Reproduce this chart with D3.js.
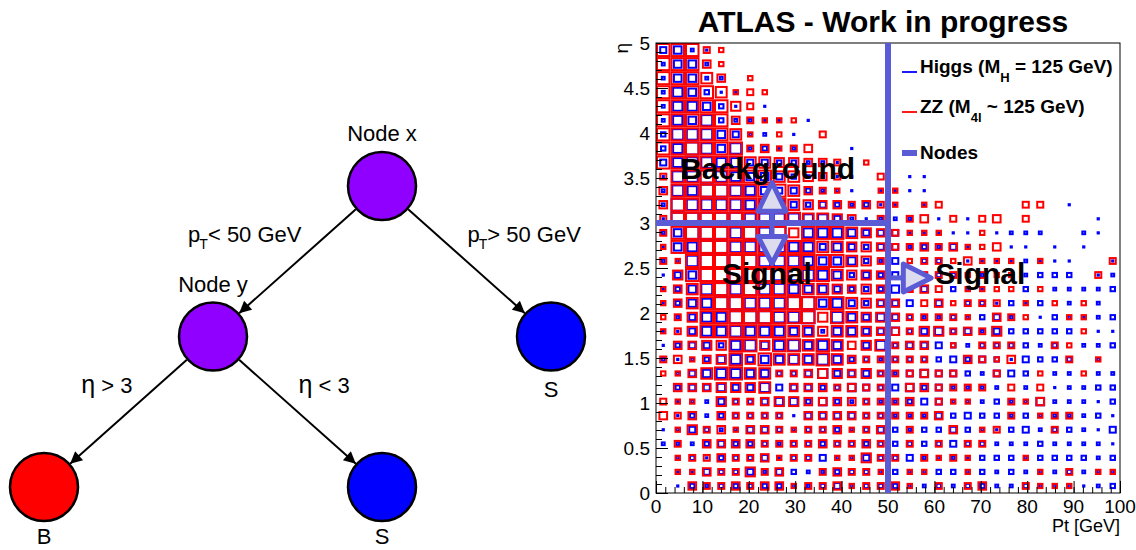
<!DOCTYPE html>
<html>
<head>
<meta charset="utf-8">
<script src="https://cdn.jsdelivr.net/npm/d3@7"></script>
<style>
  body { margin: 0; background: #fff; }
  svg { display: block; font-family: "Liberation Sans", Arial, Helvetica, sans-serif; }
</style>
</head>
<body>
<svg id="chart" width="1136" height="550"></svg>
<script>
// ---------------------------------------------------------------
// Box histograms: one digit per bin (0 = empty, 9 = box fills the bin),
// rows listed from the top eta bin (4.84-5) down to the bottom one (0-0.16),
// columns from pT = 0 to pT = 100 GeV.
// ---------------------------------------------------------------
const higgsRows = [
  "56320000000000000000000000000000",
  "36630000000000000000000000000000",
  "36633000000000000000000000000000",
  "37642200000000000000000000000000",
  "37764202000000000000000000000000",
  "37684332202000000000000000000000",
  "48886533020000000000000000000000",
  "47986834230002000000000000000000",
  "57887755443320000000000000000000",
  "28898766543322000220000000000000",
  "38799876554332022220000000000000",
  "39888878754543422020000000002000",
  "29999988887753233302020000000020",
  "36999898907776555222220233300320",
  "26799888877565455343520022020200",
  "33899998887666435044022223222002",
  "25699999888764545444433333444023",
  "24689898876654446450432004033334",
  "24679988899675455505044242403030",
  "03577999889086565433434530243234",
  "22577877766366556456453544444022",
  "24554786786760574555434444340334",
  "32346756676864434444545425444030",
  "03567766445755543565543554033033",
  "04556557555446545645333303023344",
  "02335445664643433455333433633324",
  "02434444425555443335454434333342",
  "23543355434443454344543245344325",
  "33345444344444444444544333433332",
  "03424445244533544533324443444434",
  "02254453543344434334434343334333",
  "02434444433453444334344334333234"
];
const zzRows = [
  "99954000000000000000000000000000",
  "99964000000000000000000000000000",
  "99986040000000000000000000000000",
  "99998454000000000000000000000000",
  "99999750000000000000000000000000",
  "99999654440000000000000000000000",
  "99999840400500000000000000000000",
  "99999956456000000000000000000000",
  "99999988776650400000000000000000",
  "59999999887650050000000000000000",
  "69999999986540044000000000000000",
  "69999999987665654045000005500000",
  "59999999998876050560505605000000",
  "59999999979998765444004000000000",
  "49999999999887765565644600000000",
  "54999999999998750455464440400005",
  "07999999999987760555545440000050",
  "46899999998876760565044440400000",
  "46899999999998766056455504040400",
  "45799999999798776555540654004400",
  "45799999988788766577565700000400",
  "06677997998986785660405550054000",
  "56467979888986555550065460005040",
  "44689988556776755565500500400400",
  "06667778066656550665555050500000",
  "54407556776666555605440054600000",
  "65606555506666555556000050455000",
  "04756466545564560500604500050000",
  "05066665555655650505055000000000",
  "04556556455044755054540004000000",
  "04465575600565540440040000405044",
  "00655656645564556405056005444000"
];

const ptRange = [0, 100];
const etaRange = [0, 5];
const ptTicks = [0, 10, 20, 30, 40, 50, 60, 70, 80, 90, 100];
const etaTicks = [0, 0.5, 1, 1.5, 2, 2.5, 3, 3.5, 4, 4.5, 5];
const etaTickLabels = ["0", "0.5", "1", "1.5", "2", "2.5", "3", "3.5", "4", "4.5", "5"];

// Decision-tree cuts shown on the histogram
const cutPt = 50;
const cutEta = 3;

const legendEntries = [
  { kind: "line", color: "#0000ff", main: "Higgs (M", sub: "H", rest: " = 125 GeV)" },
  { kind: "line", color: "#ff0000", main: "ZZ (M", sub: "4l", rest: " ~ 125 GeV)" },
  { kind: "band", color: "#5b5bd6", main: "Nodes", sub: "", rest: "" }
];

// Decision tree
const treeNodes = [
  { id: "x",  label: "Node x", labelPos: "above", fill: "#9000ff", depth: 0, slot: 2 },
  { id: "y",  label: "Node y", labelPos: "above", fill: "#9000ff", depth: 1, slot: 1 },
  { id: "s1", label: "S",      labelPos: "below", fill: "#0000ff", depth: 1, slot: 3 },
  { id: "b",  label: "B",      labelPos: "below", fill: "#ff0000", depth: 2, slot: 0 },
  { id: "s2", label: "S",      labelPos: "below", fill: "#0000ff", depth: 2, slot: 2 }
];
const treeEdges = [
  { source: "x", target: "y",  var: "pT",  op: "<", value: "50 GeV" },
  { source: "x", target: "s1", var: "pT",  op: ">", value: "50 GeV" },
  { source: "y", target: "b",  var: "eta", op: ">", value: "3" },
  { source: "y", target: "s2", var: "eta", op: "<", value: "3" }
];

// ---------------------------------------------------------------
const svg = d3.select("#chart");
const nodeBlue = "#5b5bd6";

// ===================== decision tree (left) ====================
const tree = svg.append("g");
const slotX = d3.scaleLinear().domain([0, 3]).range([44, 551]);
const depthY = d3.scaleLinear().domain([0, 2]).range([186, 487]);
const R = 34;
const nodeById = new Map(treeNodes.map(n => [n.id, { ...n, cx: slotX(n.slot), cy: depthY(n.depth) }]));

svg.append("defs").append("marker")
  .attr("id", "arrowHead")
  .attr("viewBox", "0 0 10 10")
  .attr("refX", 10).attr("refY", 5)
  .attr("markerWidth", 7).attr("markerHeight", 6)
  .attr("markerUnits", "strokeWidth")
  .attr("orient", "auto")
  .append("path").attr("d", "M0,0 L10,5 L0,10 Z").attr("fill", "#000");

treeEdges.forEach(e => {
  const s = nodeById.get(e.source), t = nodeById.get(e.target);
  const dx = t.cx - s.cx, dy = t.cy - s.cy, len = Math.hypot(dx, dy);
  const ux = dx / len, uy = dy / len;
  tree.append("line")
    .attr("x1", s.cx + ux * (R + 1)).attr("y1", s.cy + uy * (R + 1))
    .attr("x2", t.cx - ux * (R + 1)).attr("y2", t.cy - uy * (R + 1))
    .attr("stroke", "#000").attr("stroke-width", 2)
    .attr("marker-end", "url(#arrowHead)");

  const mx = (s.cx + t.cx) / 2, my = (s.cy + t.cy) / 2;
  const goesLeft = dx < 0;
  const txt = tree.append("text")
    .attr("x", goesLeft ? mx + 4 : mx + 1)
    .attr("y", my - 19)
    .attr("text-anchor", goesLeft ? "end" : "start")
    .attr("font-size", 22)
    .attr("fill", "#000");
  if (e.var === "pT") {
    txt.append("tspan").text("p");
    txt.append("tspan").attr("font-size", 14).attr("dy", 7).attr("dx", -1).text("T");
    txt.append("tspan").attr("dy", -7).text(e.op + " " + e.value);
  } else {
    txt.append("tspan").attr("font-size", 25).text("η");
    txt.append("tspan").text(" " + e.op + " " + e.value);
  }
});

nodeById.forEach(n => {
  tree.append("circle")
    .attr("cx", n.cx).attr("cy", n.cy).attr("r", R)
    .attr("fill", n.fill).attr("stroke", "#000").attr("stroke-width", 2.5);
  tree.append("text")
    .attr("x", n.cx)
    .attr("y", n.labelPos === "above" ? n.cy - R - 11 : Math.min(n.cy + R + 26, 544))
    .attr("text-anchor", "middle")
    .attr("font-size", 22)
    .text(n.label);
});

// ===================== box histogram (right) ===================
const frame = { left: 656, right: 1120, top: 43, bottom: 493 };
const x = d3.scaleLinear().domain(ptRange).range([frame.left, frame.right]);
const y = d3.scaleLinear().domain(etaRange).range([frame.bottom, frame.top]);
const nPt = higgsRows[0].length, nEta = higgsRows.length;
const ptStep = (ptRange[1] - ptRange[0]) / nPt;
const etaStep = (etaRange[1] - etaRange[0]) / nEta;
const boxFrac = d3.scaleLinear().domain([0, 9]).range([0, 1]);

function cellsOf(rows) {
  const out = [];
  rows.forEach((row, i) => {
    const iEta = rows.length - 1 - i;
    row.padEnd(nPt, "0").split("").forEach((c, iPt) => {
      const v = +c;
      if (v > 0) out.push({ iPt, iEta, v });
    });
  });
  return out;
}

const plot = svg.append("g");

function drawBoxes(rows, color) {
  const bw = x(ptStep) - x(0), bh = y(0) - y(etaStep);
  const sw = 2;
  plot.append("g").selectAll("rect").data(cellsOf(rows)).join("rect")
    .attr("x", d => x(ptRange[0] + (d.iPt + 0.5) * ptStep) - boxFrac(d.v) * bw / 2 + sw / 2)
    .attr("y", d => y(etaRange[0] + (d.iEta + 0.5) * etaStep) - boxFrac(d.v) * bh / 2 + sw / 2)
    .attr("width", d => Math.max(boxFrac(d.v) * bw - sw, 1.2))
    .attr("height", d => Math.max(boxFrac(d.v) * bh - sw, 1.2))
    .attr("fill", "none")
    .attr("stroke", color)
    .attr("stroke-width", sw);
}
drawBoxes(higgsRows, "#0000ff");
drawBoxes(zzRows, "#ff0000");

// frame
plot.append("rect")
  .attr("x", frame.left).attr("y", frame.top)
  .attr("width", frame.right - frame.left).attr("height", frame.bottom - frame.top)
  .attr("fill", "none").attr("stroke", "#000").attr("stroke-width", 1);

// axes (ticks drawn inside the frame)
const xAxis = d3.axisTop(x).tickValues(ptTicks).tickSize(12).tickFormat("");
const xMinor = d3.axisTop(x).tickValues(d3.range(0, 101, 2)).tickSize(6).tickFormat("");
const yAxis = d3.axisRight(y).tickValues(etaTicks).tickSize(12).tickFormat("");
const yMinor = d3.axisRight(y).tickValues(d3.range(0, 51).map(v => v / 10)).tickSize(6).tickFormat("");
[[xAxis, `translate(0,${frame.bottom})`], [xMinor, `translate(0,${frame.bottom})`],
 [yAxis, `translate(${frame.left},0)`], [yMinor, `translate(${frame.left},0)`]].forEach(([ax, tr]) => {
  const g = plot.append("g").attr("transform", tr).call(ax);
  g.select(".domain").remove();
  g.selectAll("line").attr("stroke", "#000").attr("stroke-width", 1);
});

plot.append("g").selectAll("text").data(ptTicks).join("text")
  .attr("x", d => x(d)).attr("y", frame.bottom + 20)
  .attr("text-anchor", "middle").attr("font-size", 19).text(d => d);
plot.append("g").selectAll("text").data(etaTicks).join("text")
  .attr("x", frame.left - 6).attr("y", d => y(d) + 6.5)
  .attr("text-anchor", "end").attr("font-size", 19)
  .text((d, i) => etaTickLabels[i]);

plot.append("text")
  .attr("x", frame.right).attr("y", frame.bottom + 39)
  .attr("text-anchor", "end").attr("font-size", 18).text("Pt [GeV]");
plot.append("text")
  .attr("transform", `translate(628,${frame.top}) rotate(-90)`)
  .attr("text-anchor", "end").attr("font-size", 19).text("η");

// title
svg.append("text")
  .attr("x", 883).attr("y", 32)
  .attr("text-anchor", "middle").attr("font-size", 30).attr("font-weight", "bold")
  .text("ATLAS - Work in progress");

// ---- decision boundaries and region annotations ----
const ann = svg.append("g");
ann.append("line")
  .attr("x1", x(cutPt)).attr("x2", x(cutPt))
  .attr("y1", y(etaRange[1])).attr("y2", y(etaRange[0]))
  .attr("stroke", nodeBlue).attr("stroke-width", 6);
ann.append("line")
  .attr("x1", x(ptRange[0])).attr("x2", x(cutPt))
  .attr("y1", y(cutEta)).attr("y2", y(cutEta))
  .attr("stroke", nodeBlue).attr("stroke-width", 6);

function headPath(tip, base, halfW) {
  // triangle with apex at tip and base centred at base, in pixel coords
  const dx = tip[0] - base[0], dy = tip[1] - base[1], L = Math.hypot(dx, dy);
  const nx = -dy / L * halfW, ny = dx / L * halfW;
  return `M${tip[0]},${tip[1]} L${base[0] + nx},${base[1] + ny} L${base[0] - nx},${base[1] - ny} Z`;
}
const arrowPt = 25;
// up / down arrow around the eta cut
ann.append("line")
  .attr("x1", x(arrowPt)).attr("x2", x(arrowPt))
  .attr("y1", y(3.13)).attr("y2", y(2.85))
  .attr("stroke", nodeBlue).attr("stroke-width", 5);
[[3.45, 3.13], [2.55, 2.85]].forEach(([tipEta, baseEta]) => {
  ann.append("path")
    .attr("d", headPath([x(arrowPt), y(tipEta)], [x(arrowPt), y(baseEta)], 14))
    .attr("fill", "#dcdcee").attr("stroke", nodeBlue).attr("stroke-width", 5)
    .attr("stroke-linejoin", "round");
});
// right arrow from the pT cut
const arrowEta = 2.39;
ann.append("line")
  .attr("x1", x(cutPt)).attr("x2", x(53.3))
  .attr("y1", y(arrowEta)).attr("y2", y(arrowEta))
  .attr("stroke", nodeBlue).attr("stroke-width", 5);
ann.append("path")
  .attr("d", headPath([x(59.3), y(arrowEta)], [x(53.3), y(arrowEta)], 14))
  .attr("fill", "#dcdcee").attr("stroke", nodeBlue).attr("stroke-width", 5)
  .attr("stroke-linejoin", "round");

const regionLabels = [
  { text: "Background", pt: 5.2, eta: 3.49 },
  { text: "Signal", pt: 14.2, eta: 2.32 },
  { text: "Signal", pt: 60.2, eta: 2.32 }
];
ann.selectAll("text.region").data(regionLabels).join("text")
  .attr("class", "region")
  .attr("x", d => x(d.pt)).attr("y", d => y(d.eta))
  .attr("font-size", 30).attr("font-weight", "bold").attr("fill", "#000")
  .text(d => d.text);

// ---- legend ----
const leg = svg.append("g");
const legY = [73, 113, 159];
legendEntries.forEach((e, i) => {
  if (e.kind === "line") {
    leg.append("line").attr("x1", 902).attr("x2", 917)
      .attr("y1", legY[i] - 1).attr("y2", legY[i] - 1)
      .attr("stroke", e.color).attr("stroke-width", 1.8);
  } else {
    leg.append("rect").attr("x", 902).attr("y", legY[i] - 9)
      .attr("width", 15).attr("height", 6).attr("fill", e.color);
  }
  const t = leg.append("text").attr("x", 920).attr("y", legY[i])
    .attr("font-size", 19).attr("font-weight", "bold");
  t.append("tspan").text(e.main);
  if (e.sub) {
    t.append("tspan").attr("font-size", 13).attr("dy", 9).text(e.sub);
    t.append("tspan").attr("dy", -9).text(e.rest);
  }
});
</script>
</body>
</html>
